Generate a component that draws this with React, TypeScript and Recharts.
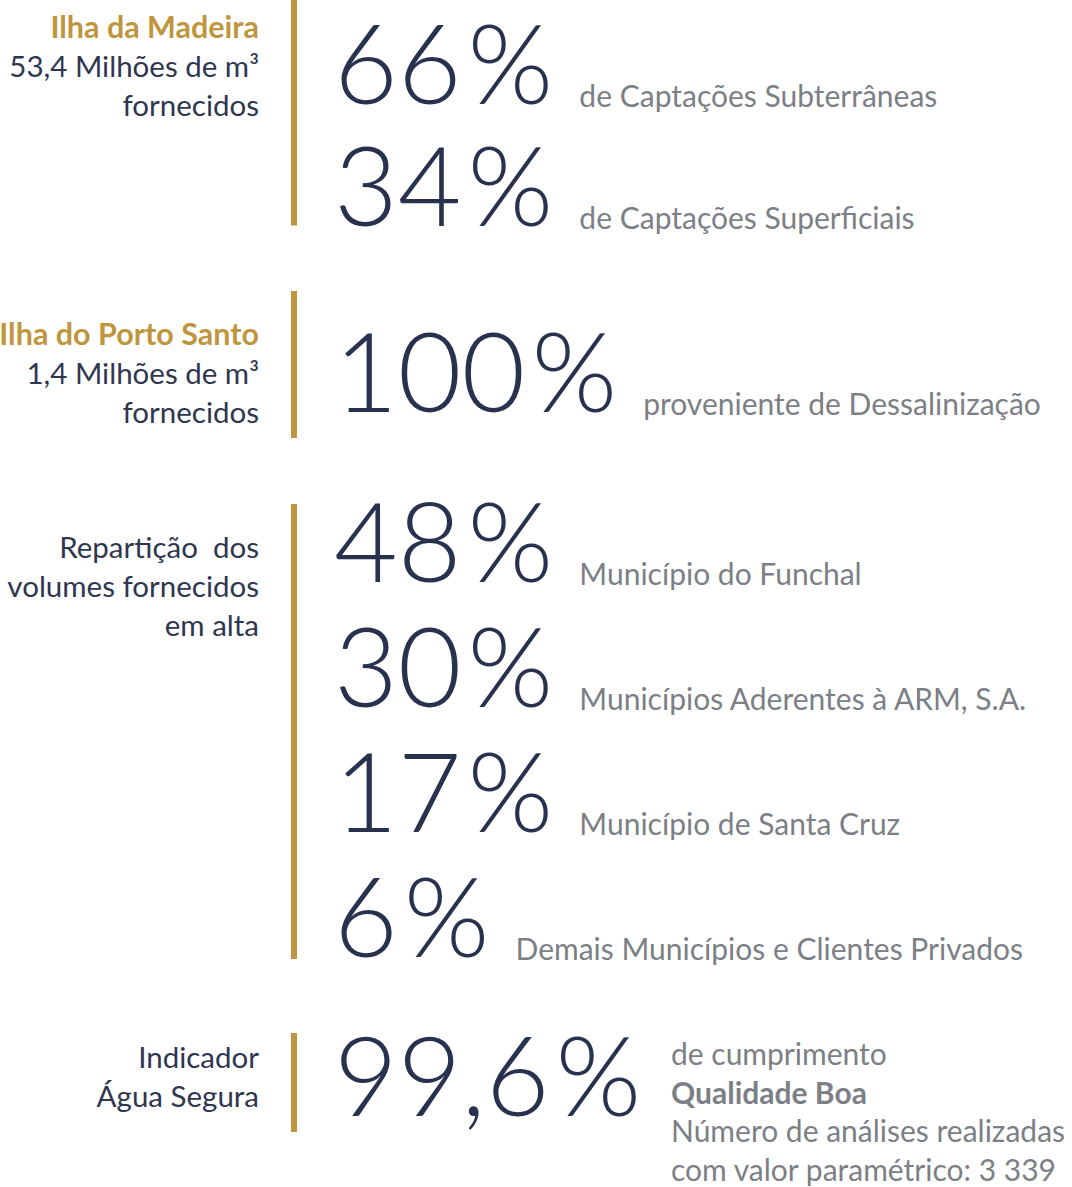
import React from 'react';
import { BarChart, Bar, XAxis, YAxis } from 'recharts';

const madeiraShares = [66, 34];
const madeiraSources = ['de Captações Subterrâneas', 'de Captações Superficiais'];

const portoSantoShares = [100];
const portoSantoSources = ['proveniente de Dessalinização'];

const bulkShares = [48, 30, 17, 6];
const bulkClients = [
  'Município do Funchal',
  'Municípios Aderentes à ARM, S.A.',
  'Município de Santa Cruz',
  'Demais Municípios e Clientes Privados',
];

const safeWaterShares = [99.6];
const safeWaterNotes = [
  'de cumprimento',
  'Qualidade Boa',
  'Número de análises realizadas',
  'com valor paramétrico: 3 339',
];

const groupHeadings = ['Ilha da Madeira', 'Ilha do Porto Santo', '', ''];
const groupCaptions = [
  ['53,4 Milhões de m³', 'fornecidos'],
  ['1,4 Milhões de m³', 'fornecidos'],
  ['Repartição  dos', 'volumes fornecidos', 'em alta'],
  ['Indicador', 'Água Segura'],
];

const NAVY = '#28324f';
const LABEL_NAVY = '#2f3650';
const GOLD = '#bf953d';
const GRAY = '#7c7f85';
const FONT = "Lato, 'Noto Sans', sans-serif";

const CAP = 79; // cap height of the big figures
const PAD = 60;
const NUMBER_X = 334;

// layout of each block: first baseline, row pitch, gold bar ends, caption offset
const layouts = [
  { baseline: 103, pitch: 122, goldTop: -40, goldBottom: 0, captionDy: -66 },
  { baseline: 412, pitch: 125, goldTop: -42, goldBottom: 26, captionDy: -67 },
  { baseline: 582, pitch: 125, goldTop: 1, goldBottom: 2, captionDy: -24 },
  { baseline: 1116, pitch: 125, goldTop: -4, goldBottom: 16, captionDy: -48 },
];

const blocks = [
  { shares: madeiraShares, notes: madeiraSources.map((s) => [s]) },
  { shares: portoSantoShares, notes: portoSantoSources.map((s) => [s]) },
  { shares: bulkShares, notes: bulkClients.map((s) => [s]) },
  { shares: safeWaterShares, notes: [safeWaterNotes] },
];

const fmt = (v: number) => String(v).replace('.', ',');

const makeRow = (g: number, count: number) => (props: any) => {
  const { x, y, height, index, payload } = props;
  const lay = layouts[g];
  const baseline = y + height / 2 + CAP / 2;
  const lines: string[] = payload.notes;
  const multi = lines.length > 1;

  let extras: React.ReactNode = null;
  if (index === 0) {
    const lastBaseline = baseline + (count - 1) * height;
    const top = baseline - CAP + lay.goldTop;
    const bottom = lastBaseline + lay.goldBottom;
    const heading = groupHeadings[g];
    const caps = groupCaptions[g];
    const rows = heading ? [heading, ...caps] : caps;
    extras = (
      <g>
        <rect x={x - 43} y={top} width={6} height={bottom - top} fill={GOLD} />
        {rows.map((t, i) => (
          <text
            key={i}
            x={x - 75}
            y={baseline + lay.captionDy + i * 39}
            textAnchor="end"
            fill={heading && i === 0 ? GOLD : LABEL_NAVY}
            style={{
              fontFamily: FONT,
              fontSize: heading && i === 0 ? 30.5 : 29.5,
              fontWeight: heading && i === 0 ? 700 : 400,
              whiteSpace: 'pre',
            }}
          >
            {t}
          </text>
        ))}
      </g>
    );
  }

  return (
    <g>
      {extras}
      <text x={x} y={baseline} fill={NAVY} style={{ fontFamily: FONT, fontSize: 110, fontWeight: 300 }}>
        {fmt(payload.value)}
        <tspan dx={6}>%</tspan>
        {!multi && (
          <tspan dx={26} dy={3} fill={GRAY} style={{ fontSize: 30, fontWeight: 400 }}>
            {lines[0]}
          </tspan>
        )}
      </text>
      {multi &&
        lines.map((t, i) => (
          <text
            key={i}
            x={x + 337}
            y={baseline - 51 + i * 38.5}
            fill={GRAY}
            style={{ fontFamily: FONT, fontSize: 30, fontWeight: i === 1 ? 700 : 400 }}
          >
            {t}
          </text>
        ))}
    </g>
  );
};

const Block = ({ g }: { g: number }) => {
  const lay = layouts[g];
  const { shares, notes } = blocks[g];
  const data = shares.map((value, i) => ({ name: `r${i}`, value, notes: notes[i] }));
  const plotTop = lay.baseline - CAP / 2 - lay.pitch / 2;
  const plotH = lay.pitch * shares.length;
  return (
    <div style={{ position: 'absolute', left: 0, top: plotTop - PAD }}>
      <BarChart
        width={1072}
        height={plotH + 2 * PAD}
        data={data}
        layout="vertical"
        barCategoryGap={0}
        margin={{ top: PAD, bottom: PAD, left: NUMBER_X, right: 0 }}
      >
        <XAxis type="number" domain={[0, 100]} hide />
        <YAxis type="category" dataKey="name" hide />
        <Bar dataKey="value" isAnimationActive={false} shape={makeRow(g, shares.length)} />
      </BarChart>
    </div>
  );
};

export default function App() {
  return (
    <div
      style={{
        position: 'absolute',
        left: 0,
        top: 0,
        width: 1072,
        height: 1187,
        overflow: 'hidden',
        background: '#ffffff',
      }}
    >
      {layouts.map((_, g) => (
        <Block key={g} g={g} />
      ))}
    </div>
  );
}
